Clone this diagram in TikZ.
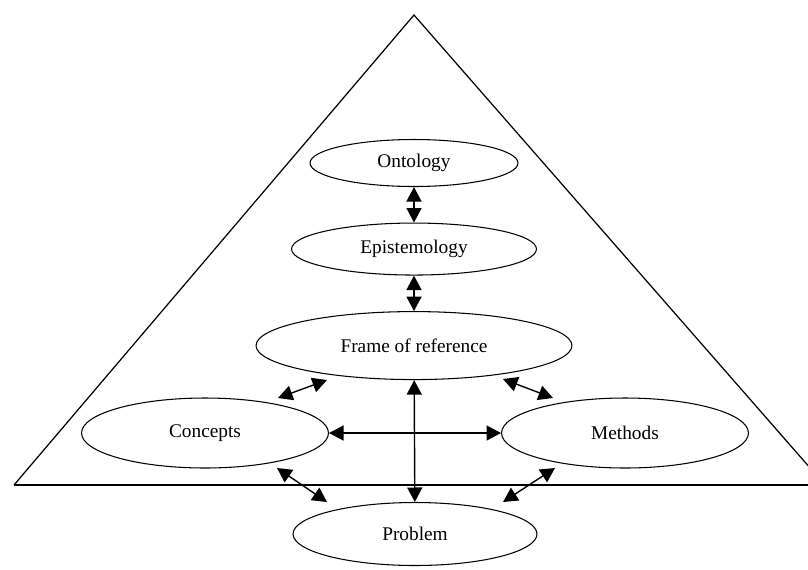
\documentclass[tikz,border=0pt]{standalone}
\usepackage{fontspec}
\setmainfont{Liberation Serif}
\usetikzlibrary{arrows.meta,positioning,shapes.geometric}

\begin{document}
\begin{tikzpicture}[
  x=0.02cm, y=-0.02cm,
  node distance=0.71cm,
  oval/.style={draw, ellipse, line width=0.6pt, inner sep=0pt,
               font=\fontsize{11}{13}\selectfont},
  link/.style={{Triangle[length=0.29cm,width=0.3cm]}-{Triangle[length=0.29cm,width=0.3cm]},
               line width=0.8pt}
]
  \useasboundingbox (0,0) rectangle (808,569);
  \clip (0,0) rectangle (808,569);

  % pyramid
  \coordinate (apex) at (414,15);
  \coordinate (baseL) at (14,485);
  \coordinate (baseR) at (808,485);
  \coordinate (sideR) at (825,485);
  \draw[line width=0.7pt] (baseL) -- (apex) -- (sideR);
  \draw[line width=0.9pt] (baseL) -- (baseR);

  % levels
  \node[oval, minimum width=4.16cm, minimum height=0.94cm] (onto) at (414,163) {Ontology};
  \node[oval, minimum width=4.9cm, minimum height=1.04cm, below=of onto] (epis) {Epistemology};
  \node[oval, minimum width=6.32cm, minimum height=1.36cm, below=of epis] (frame) {Frame of reference};
  \node[oval, minimum width=4.94cm, minimum height=1.4cm] (concepts) at (205,433) {Concepts};
  \node[oval, minimum width=4.94cm, minimum height=1.4cm] (methods) at (625,433) {Methods};
  \node[oval, minimum width=4.88cm, minimum height=1.26cm] (problem) at (415,534) {Problem};

  % free ends of the short links
  \coordinate (fc1) at (327,380);
  \coordinate (fc2) at (278,398);
  \coordinate (fm1) at (503,379);
  \coordinate (fm2) at (553,398);
  \coordinate (cp1) at (277,468);
  \coordinate (cp2) at (327,502);
  \coordinate (mp1) at (555,468);
  \coordinate (mp2) at (503,502);

  \draw[link] (onto) -- (epis);
  \draw[link] (epis) -- (frame);
  \draw[link] (frame) -- (problem);
  \draw[link] (concepts) -- (methods);
  \draw[link] (fc1) -- (fc2);
  \draw[link] (fm1) -- (fm2);
  \draw[link] (cp1) -- (cp2);
  \draw[link] (mp1) -- (mp2);
\end{tikzpicture}
\end{document}
